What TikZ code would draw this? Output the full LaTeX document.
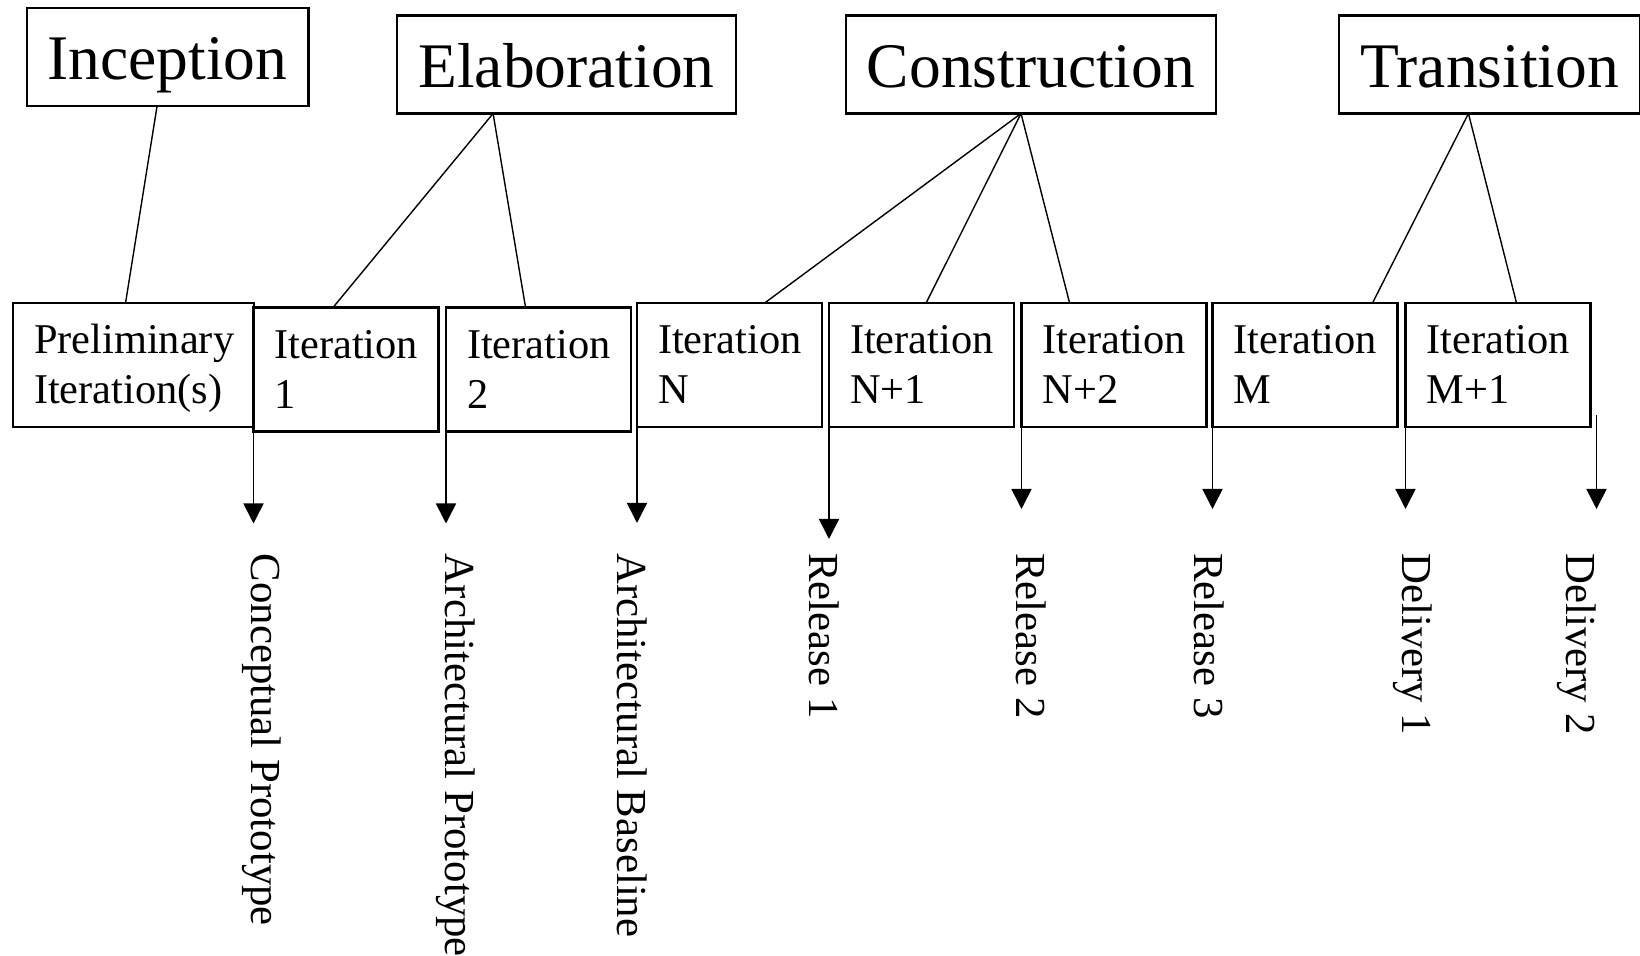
\documentclass[tikz,border=0pt]{standalone}
\usepackage{fontspec}
\setmainfont{Liberation Serif}
\usetikzlibrary{arrows.meta}
\usetikzlibrary{calc}

\begin{document}
\begin{tikzpicture}[x=0.5pt,y=-0.5pt,
		phase/.style={draw,line width=1.1pt,outer sep=0pt,inner xsep=10.5pt,inner ysep=0pt,minimum height=49pt,text height=28pt,text depth=5pt,font=\fontsize{31.75}{38}\selectfont},
		iter/.style={draw,line width=1.1pt,outer sep=0pt,inner xsep=10.5pt,inner ysep=0pt,minimum height=62pt,text width=71.5pt,text height=14pt,text depth=25pt,align=left,font=\fontsize{21.2}{25}\selectfont},
		link/.style={line width=0.7pt},
		mile/.style={line width=0.8pt,-{Triangle[length=10pt,width=10pt]}},
		lbl/.style={rotate=-90,anchor=west,inner sep=0pt,font=\fontsize{21.4}{25}\selectfont}]
		\useasboundingbox (0,0) rectangle (1640,956);
	
		\node[phase] (Inc) at (167.5,57) {Inception};
		\node[phase] (Ela) at (566.5,64.5) {Elaboration};
		\node[phase] (Con) at (1031,64.5) {Construction};
		\node[phase] (Tra) at (1489.5,64.5) {Transition};
		
		\node[iter,text width=99.5pt] (I0) at (133.5,365) {Preliminary\\Iteration(s)};
		\node[iter] (I1) at (346,369.5) {Iteration\\1};
		\node[iter] (I2) at (538.5,369.5) {Iteration\\2};
		\node[iter] (IN) at (729.5,365) {Iteration\\N};
		\node[iter] (IN1) at (921.5,365) {Iteration\\N+1};
		\node[iter] (IN2) at (1114,365) {Iteration\\N+2};
		\node[iter] (IM) at (1305,365) {Iteration\\M};
		\node[iter] (IM1) at (1498,365) {Iteration\\M+1};
		
		\draw[link] ($(Inc.south west)!0.463!(Inc.south east)$) -- ($(I0.north west)!0.467!(I0.north east)$);
		\draw[link] ($(Ela.south west)!0.283!(Ela.south east)$) -- ($(I1.north west)!0.43!(I1.north east)$);
		\draw[link] ($(Ela.south west)!0.283!(Ela.south east)$) -- ($(I2.north west)!0.43!(I2.north east)$);
		\draw[link] ($(Con.south west)!0.473!(Con.south east)$) -- ($(IN.north west)!0.69!(IN.north east)$);
		\draw[link] ($(Con.south west)!0.473!(Con.south east)$) -- ($(IN1.north west)!0.525!(IN1.north east)$);
		\draw[link] ($(Con.south west)!0.473!(Con.south east)$) -- ($(IN2.north west)!0.26!(IN2.north east)$);
		\draw[link] ($(Tra.south west)!0.43!(Tra.south east)$) -- ($(IM.north west)!0.865!(IM.north east)$);
		\draw[link] ($(Tra.south west)!0.43!(Tra.south east)$) -- ($(IM1.north west)!0.60!(IM1.north east)$);
		
		\coordinate (D1) at ($(I1.south west)+(0,92)$);
		\coordinate (D2) at ($(I2.south west)+(0,92)$);
		\coordinate (D3) at ($(IN.south west)+(0,96)$);
		\coordinate (D4) at ($(IN1.south west)+(0,112)$);
		\coordinate (D5) at ($(IN2.south west)+(0,82)$);
		\coordinate (D6) at ($(IM.south west)+(0,82)$);
		\coordinate (D7) at ($(IM1.south west)+(0,82)$);
		\coordinate (S8) at ($(IM1.south east)+(6,-12)$);
		\coordinate (D8) at ($(S8)+(0,94)$);
		
		\draw[mile] (I1.south west) -- (D1);
		\draw[mile] (I2.south west) -- (D2);
		\draw[mile] (IN.south west) -- (D3);
		\draw[mile] (IN1.south west) -- (D4);
		\draw[mile] (IN2.south west) -- (D5);
		\draw[mile] (IM.south west) -- (D6);
		\draw[mile] (IM1.south west) -- (D7);
		\draw[mile] (S8) -- (D8);
		
		\node[lbl] (L1) at ($(D1)+(8,30)$) {Conceptual Prototype};
		\node[lbl] (L2) at ($(D2)+(10,30)$) {Architectural Prototype};
		\node[lbl] (L3) at ($(D3)+(-5,30)$) {Architectural Baseline};
		\node[lbl] (L4) at ($(D4)+(-5,14)$) {Release 1};
		\node[lbl] (L5) at ($(D5)+(10,44)$) {Release 2};
		\node[lbl] (L6) at ($(D6)+(-3,44)$) {Release 3};
		\node[lbl] (L7) at ($(D7)+(7,44)$) {Delivery 1};
		\node[lbl] (L8) at ($(D8)+(-20,44)$) {Delivery 2};
	\end{tikzpicture}
\end{document}
